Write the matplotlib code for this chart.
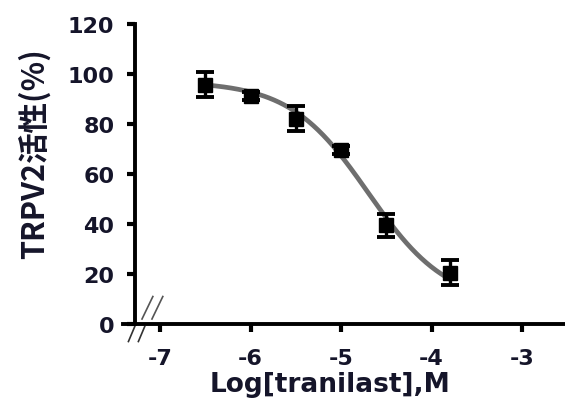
import numpy as np
import matplotlib.pyplot as plt

plt.rcParams['font.family'] = ['Noto Sans CJK SC', 'DejaVu Sans']
plt.rcParams['axes.unicode_minus'] = False

# measured points
log_conc = [-6.5, -6.0, -5.5, -5.0, -4.5, -3.8]
activity = [95.6, 91.2, 82.0, 69.5, 39.4, 20.5]
sem = [5.0, 1.5, 5.0, 1.5, 4.5, 5.0]

# fitted dose-response curve (4PL)
fit_top = 97.0
fit_bottom = 8.0
fit_logic50 = -4.7
fit_hill = 1.0

x_ticks = [-7, -6, -5, -4, -3]
y_ticks = [0, 20, 40, 60, 80, 100, 120]
txt_color = '#15152a'

fig = plt.figure(figsize=(5.65, 4.02), dpi=100)
ax = fig.add_axes([0.2177, 0.1915, 0.7823, 0.7465])

xs = np.linspace(log_conc[0], log_conc[-1], 200)
ys = fit_bottom + (fit_top - fit_bottom) / (1 + 10 ** ((xs - fit_logic50) * fit_hill))
ax.plot(xs, ys, color='#6e6e6e', lw=3.4, solid_capstyle='round', zorder=2)

ax.errorbar(log_conc, activity, yerr=sem, fmt='s', color='black', ms=10,
            ecolor='black', elinewidth=2.4, capsize=6.5, capthick=2.8, zorder=3)

ax.set_xlim(-7.41, -2.525)
ax.set_ylim(0, 120)
ax.spines['left'].set_position(('data', -7.276))
ax.spines['top'].set_visible(False)
ax.spines['right'].set_visible(False)
for s in ('left', 'bottom'):
    ax.spines[s].set_linewidth(2.8)

ax.set_xticks(x_ticks)
ax.set_yticks(y_ticks)
ax.tick_params(direction='out', length=6, width=3, colors='black',
               labelcolor=txt_color, labelsize=16)
ax.tick_params(axis='y', pad=9)
ax.tick_params(axis='x', pad=11)
for lab in ax.get_xticklabels() + ax.get_yticklabels():
    lab.set_fontweight('bold')
    lab.set_family(['DejaVu Sans'])

ax.set_ylabel('TRPV2活性(%)', fontsize=22, fontweight='bold', color=txt_color)
ax.yaxis.set_label_coords(-0.163, 0.57)
ax.set_xlabel('Log[tranilast],M', fontsize=19, fontweight='bold', color=txt_color,
              family=['DejaVu Sans'])
ax.xaxis.set_label_coords(0.468, -0.155)

# axis break marks near the origin
for dx in (0.0, 0.11):
    ax.plot([-7.35 + dx, -7.28 + dx], [-7, -1], color='#333333', lw=1.2, clip_on=False)
    ax.plot([-7.2 + dx, -7.08 + dx], [2, 11], color='#555555', lw=1.2, clip_on=False)

fig.savefig('out.png', dpi=100)
